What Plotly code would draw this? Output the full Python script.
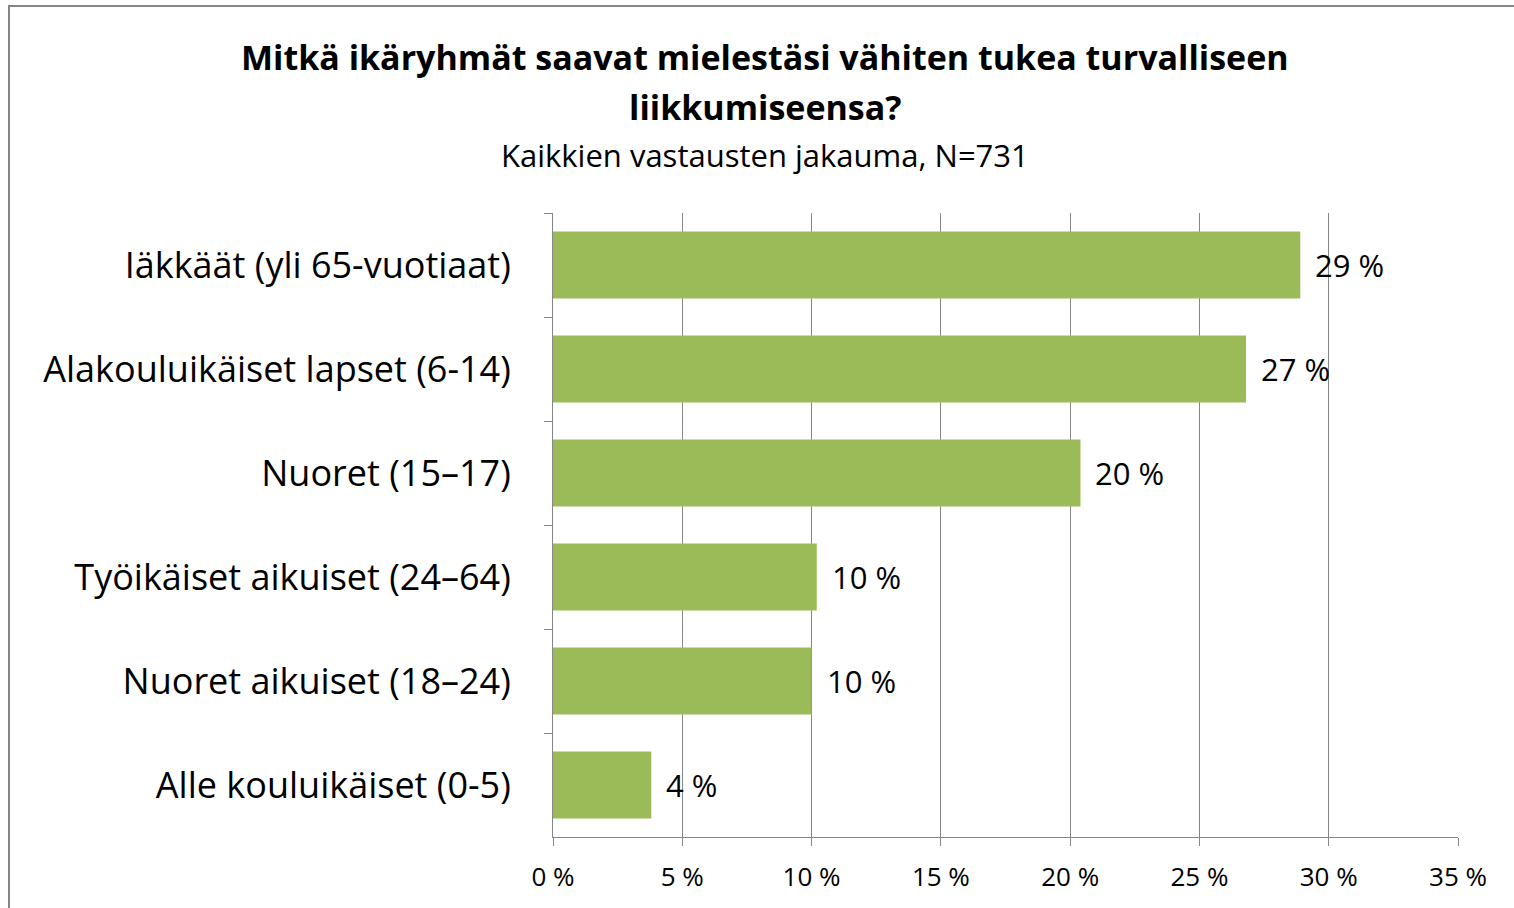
import plotly.graph_objects as go

categories = [
    "Iäkkäät (yli 65-vuotiaat)",
    "Alakouluikäiset lapset (6-14)",
    "Nuoret (15–17)",
    "Työikäiset aikuiset (24–64)",
    "Nuoret aikuiset (18–24)",
    "Alle kouluikäiset (0-5)",
]
values = [28.9, 26.8, 20.4, 10.2, 10.0, 3.8]
x_ticks = [0, 5, 10, 15, 20, 25, 30, 35]
x_tick_labels = [f"{t} %" for t in x_ticks]
title_line1 = "Mitkä ikäryhmät saavat mielestäsi vähiten tukea turvalliseen"
title_line2 = "liikkumiseensa?"
subtitle = "Kaikkien vastausten jakauma, N=731"

W, H = 1514, 908
L, R, T, B = 553, 1458, 213, 837
PW, PH = R - L, B - T

def px(xp):
    return (xp - L) / PW

def py(yp):
    return (B - yp) / PH

FONT = "Open Sans"
GRID = "#868686"

fig = go.Figure(
    go.Bar(
        x=values,
        y=categories,
        orientation="h",
        marker=dict(color="#9BBB59", line=dict(width=0)),
        width=0.645,
        hoverinfo="x+y",
    )
)

label_annotations = [
    dict(
        x=v,
        y=c,
        xref="x",
        yref="y",
        text=f"{round(v)} %",
        showarrow=False,
        xanchor="left",
        yanchor="middle",
        xshift=13,
        font=dict(family=FONT, size=31, color="#000000"),
    )
    for v, c in zip(values, categories)
]

fig.update_layout(
    width=W,
    height=H,
    margin=dict(l=L, r=W - R, t=T, b=H - B, pad=0),
    paper_bgcolor="white",
    plot_bgcolor="white",
    showlegend=False,
    font=dict(family=FONT, color="#000000"),
    xaxis=dict(
        range=[0, 35],
        tickvals=x_ticks,
        ticktext=x_tick_labels,
        showgrid=True,
        gridcolor=GRID,
        gridwidth=1,
        showline=True,
        linecolor=GRID,
        linewidth=1,
        ticks="outside",
        ticklen=8,
        tickcolor=GRID,
        tickfont=dict(family=FONT, size=26, color="#000000"),
        ticklabelstandoff=9,
        zeroline=False,
        fixedrange=True,
    ),
    yaxis=dict(
        autorange="reversed",
        type="category",
        tickson="boundaries",
        showline=True,
        linecolor=GRID,
        linewidth=1,
        ticks="outside",
        ticklen=8,
        tickcolor=GRID,
        showgrid=False,
        tickfont=dict(family=FONT, size=36, color="#000000"),
        ticklabelstandoff=34,
        fixedrange=True,
    ),
    shapes=[
        dict(
            type="rect",
            xref="paper",
            yref="paper",
            x0=px(9),
            x1=px(1530),
            y0=py(940),
            y1=py(6),
            line=dict(color=GRID, width=2),
            fillcolor="rgba(0,0,0,0)",
            layer="below",
        )
    ],
    annotations=label_annotations + [
        dict(
            text=f"<b>{title_line1}</b>",
            xref="paper", yref="paper",
            x=px(765), y=py(57),
            xanchor="center", yanchor="middle",
            showarrow=False,
            font=dict(family=FONT, size=34, color="#000000"),
        ),
        dict(
            text=f"<b>{title_line2}</b>",
            xref="paper", yref="paper",
            x=px(765), y=py(107),
            xanchor="center", yanchor="middle",
            showarrow=False,
            font=dict(family=FONT, size=34, color="#000000"),
        ),
        dict(
            text=subtitle,
            xref="paper", yref="paper",
            x=px(765), y=py(155),
            xanchor="center", yanchor="middle",
            showarrow=False,
            font=dict(family=FONT, size=31, color="#000000"),
        ),
    ],
)

fig.write_html(
    "out.html",
    config={"displayModeBar": False},
    post_script="document.body.style.margin='0';document.body.style.overflow='hidden';",
)
